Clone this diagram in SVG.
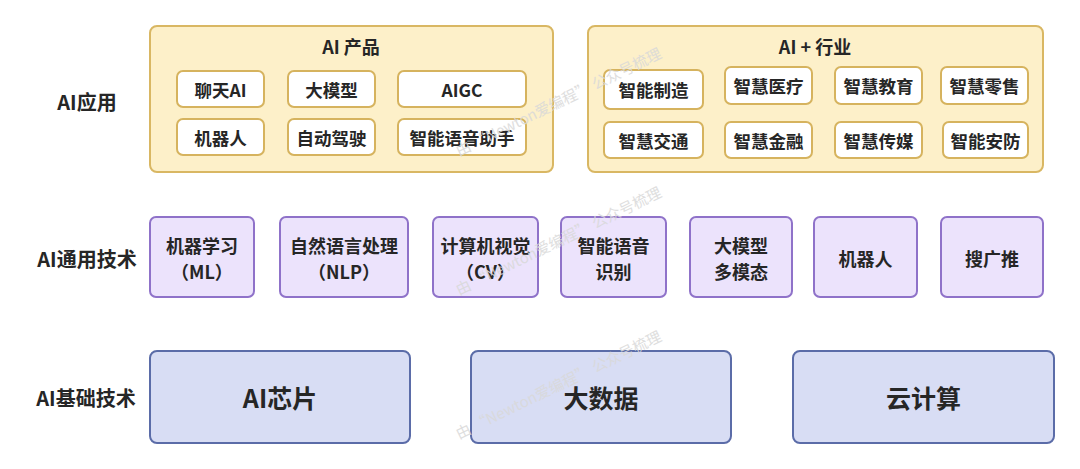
<svg xmlns="http://www.w3.org/2000/svg" width="1080" height="469" viewBox="0 0 1080 469">
<style>
text{font-family:"Noto Sans CJK SC","Noto Sans",sans-serif;font-weight:700;fill:#262626;text-anchor:middle;dominant-baseline:central}
.grp{fill:#fdf0c9;stroke:#d9b763;stroke-width:2}
.item{fill:#ffffff;stroke:#d6b35e;stroke-width:2}
.tech{fill:#ece3fc;stroke:#8f72c9;stroke-width:2}
.base{fill:#d8ddf4;stroke:#5b6ca8;stroke-width:2}
.lbl{font-size:20px}
.t16{font-size:17.5px}
.ttl{font-size:18px}
.t17{font-size:18px}
.t24{font-size:25px}
.wm{font-size:15px;font-weight:400;fill:#d9d9d9;opacity:0.85}
</style>
<rect width="1080" height="469" fill="#ffffff"/>

<g id="row-labels">
<text class="lbl" x="87" y="101">AI应用</text>
<text class="lbl" x="87" y="258">AI通用技术</text>
<text class="lbl" x="86" y="397">AI基础技术</text>
</g>

<g id="ai-products">
<rect class="grp" x="150" y="26" width="403" height="146" rx="7"/>
<text class="ttl" x="351" y="46">AI 产品</text>
<g id="p-chat"><rect class="item" x="177" y="71" width="87" height="36" rx="6"/><text class="t16" x="220.5" y="89">聊天AI</text></g>
<g id="p-llm"><rect class="item" x="288" y="71" width="87" height="36" rx="6"/><text class="t16" x="331.5" y="89">大模型</text></g>
<g id="p-aigc"><rect class="item" x="398" y="71" width="128" height="36" rx="6"/><text class="t16" x="462" y="89">AIGC</text></g>
<g id="p-robot"><rect class="item" x="177" y="119" width="87" height="36" rx="6"/><text class="t16" x="220.5" y="137">机器人</text></g>
<g id="p-auto"><rect class="item" x="288" y="119" width="87" height="36" rx="6"/><text class="t16" x="331.5" y="137">自动驾驶</text></g>
<g id="p-voice"><rect class="item" x="398" y="119" width="128" height="36" rx="6"/><text class="t16" x="462" y="137">智能语音助手</text></g>
</g>

<g id="ai-industry">
<rect class="grp" x="588" y="26" width="455" height="146" rx="7"/>
<text class="ttl" x="815" y="46">AI + 行业</text>
<g id="i-mfg"><rect class="item" x="604" y="70" width="99" height="39" rx="6"/><text class="t16" x="653.5" y="89.5">智能制造</text></g>
<g id="i-med"><rect class="item" x="725" y="67" width="87" height="37" rx="6"/><text class="t16" x="768.5" y="85.5">智慧医疗</text></g>
<g id="i-edu"><rect class="item" x="835" y="67" width="87" height="37" rx="6"/><text class="t16" x="878.5" y="85.5">智慧教育</text></g>
<g id="i-retail"><rect class="item" x="941" y="67" width="87" height="37" rx="6"/><text class="t16" x="984.5" y="85.5">智慧零售</text></g>
<g id="i-traffic"><rect class="item" x="604" y="122" width="99" height="36" rx="6"/><text class="t16" x="653.5" y="140">智慧交通</text></g>
<g id="i-fin"><rect class="item" x="725" y="122" width="87" height="36" rx="6"/><text class="t16" x="768.5" y="140">智慧金融</text></g>
<g id="i-media"><rect class="item" x="835" y="122" width="87" height="36" rx="6"/><text class="t16" x="878.5" y="140">智慧传媒</text></g>
<g id="i-sec"><rect class="item" x="943" y="122" width="85" height="36" rx="6"/><text class="t16" x="985.5" y="140">智能安防</text></g>
</g>

<g id="tech-ml"><rect class="tech" x="150" y="217" width="104" height="80" rx="6"/><text class="t17" x="202" y="245">机器学习</text><text class="t17" x="202" y="271">（ML）</text></g>
<g id="tech-nlp"><rect class="tech" x="280" y="217" width="128" height="80" rx="6"/><text class="t17" x="344" y="245">自然语言处理</text><text class="t17" x="344" y="271">（NLP）</text></g>
<g id="tech-cv"><rect class="tech" x="433" y="217" width="105" height="80" rx="6"/><text class="t17" x="485.5" y="245">计算机视觉</text><text class="t17" x="485.5" y="271">（CV）</text></g>
<g id="tech-asr"><rect class="tech" x="561" y="217" width="105" height="80" rx="6"/><text class="t17" x="613.5" y="245">智能语音</text><text class="t17" x="613.5" y="271">识别</text></g>
<g id="tech-mm"><rect class="tech" x="690" y="217" width="102" height="80" rx="6"/><text class="t17" x="741" y="245">大模型</text><text class="t17" x="741" y="271">多模态</text></g>
<g id="tech-robot"><rect class="tech" x="814" y="217" width="103" height="80" rx="6"/><text class="t17" x="865.5" y="258">机器人</text></g>
<g id="tech-search"><rect class="tech" x="941" y="217" width="102" height="80" rx="6"/><text class="t17" x="992" y="258">搜广推</text></g>

<g id="base-chip"><rect class="base" x="150" y="351" width="260" height="92" rx="7"/><text class="t24" x="280" y="397">AI芯片</text></g>
<g id="base-data"><rect class="base" x="471" y="351" width="260" height="92" rx="7"/><text class="t24" x="601" y="397">大数据</text></g>
<g id="base-cloud"><rect class="base" x="793" y="351" width="261" height="92" rx="7"/><text class="t24" x="923.5" y="397">云计算</text></g>

<g id="connectors"></g>

<g id="watermark">
<text class="wm" x="558" y="101" transform="rotate(-26 558 101)">由 “Newton爱编程” 公众号梳理</text>
<text class="wm" x="558" y="240" transform="rotate(-26 558 240)">由 “Newton爱编程” 公众号梳理</text>
<text class="wm" x="558" y="384" transform="rotate(-26 558 384)">由 “Newton爱编程” 公众号梳理</text>
</g>
</svg>
